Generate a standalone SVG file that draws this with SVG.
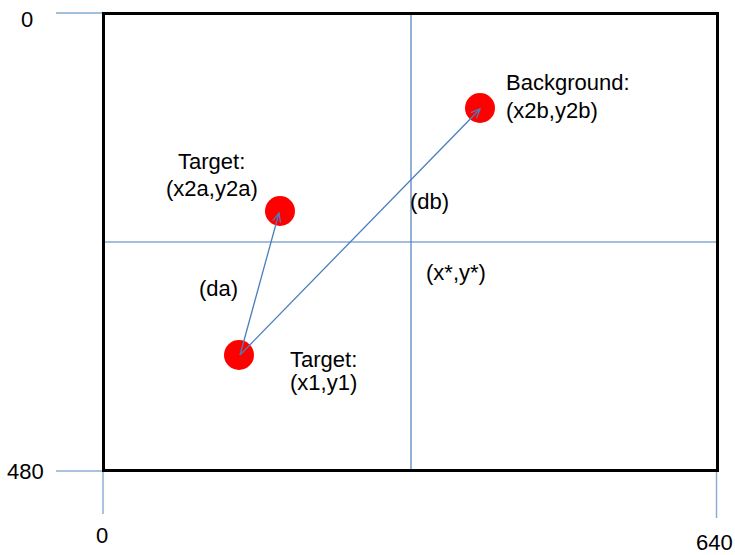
<svg xmlns="http://www.w3.org/2000/svg" width="735" height="555" viewBox="0 0 735 555">
<style>
text{font-family:"Liberation Sans",Arial,sans-serif;font-size:22px;fill:#000}
.ax{stroke:#4a7ebb;stroke-width:1.2;fill:none}
.tk{stroke:#8eadd6;stroke-width:1.5;fill:none}
.dot{fill:#ff0000}
.arr{stroke:#4a7ebb;stroke-width:1.3;fill:none;marker-end:url(#ah)}
</style>
<defs>
<marker id="ah" markerWidth="12" markerHeight="12" refX="10" refY="5" orient="auto" markerUnits="userSpaceOnUse" viewBox="0 0 12 10">
<polyline points="1,1 10,5 1,9" fill="none" stroke="#4a7ebb" stroke-width="1.3"/>
</marker>
</defs>
<g id="frame">
<line class="ax" x1="56" y1="13" x2="103" y2="13"/>
<line class="tk" x1="56" y1="471" x2="103" y2="471"/>
<line class="tk" x1="103" y1="471" x2="103" y2="514"/>
<line class="tk" x1="716.5" y1="471" x2="716.5" y2="518"/>
<line class="ax" x1="411" y1="13" x2="411" y2="471"/>
<line class="ax" x1="103" y1="242" x2="718" y2="242"/>
<rect x="103.5" y="13.5" width="614" height="457" fill="none" stroke="#000" stroke-width="3"/>
<text x="21" y="27">0</text>
<text x="7" y="479">480</text>
<text x="96" y="543">0</text>
<text x="696" y="550">640</text>
</g>
<g id="target2a">
<circle class="dot" cx="280" cy="211" r="15"/>
<text x="178" y="169">Target:</text>
<text x="166" y="196">(x2a,y2a)</text>
</g>
<g id="background">
<circle class="dot" cx="480" cy="108" r="15"/>
<text x="506" y="90">Background:</text>
<text x="506" y="118">(x2b,y2b)</text>
</g>
<g id="target1">
<circle class="dot" cx="239" cy="355" r="15"/>
<text x="290" y="367">Target:</text>
<text x="290" y="390">(x1,y1)</text>
</g>
<g id="center">
<text x="426" y="280">(x*,y*)</text>
</g>
<g id="connectors">
<line class="arr" x1="240" y1="355" x2="279" y2="213"/>
<line class="arr" x1="240" y1="355" x2="480" y2="109"/>
<text x="199" y="296">(da)</text>
<text x="410" y="209">(db)</text>
</g>
</svg>
